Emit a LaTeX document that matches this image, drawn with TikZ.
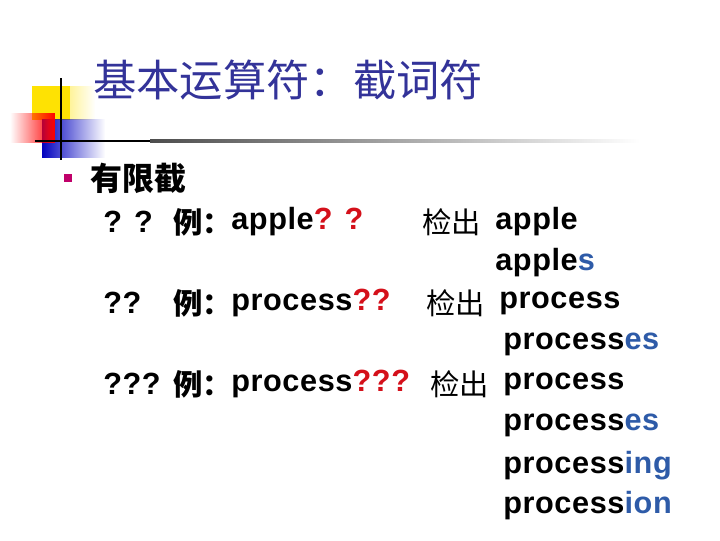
\documentclass[tikz,border=0pt]{standalone}
\usepackage{fontspec}
\setmainfont{Liberation Sans}[LetterSpace=2]
\newfontfamily\cjk{Noto Sans CJK SC}
\usetikzlibrary{fadings}
\definecolor{titleblue}{HTML}{333399}
\definecolor{sufblue}{HTML}{2E5BA8}
\definecolor{qred}{HTML}{D4101A}
\definecolor{bulletc}{HTML}{C0006A}
\begin{document}
\begin{tikzpicture}[x=0.75pt,y=-0.75pt,
  txt/.style={anchor=west,inner sep=0pt,font=\fontsize{23}{26}\selectfont\bfseries},
  ctxt/.style={anchor=west,inner sep=0pt,font=\fontsize{22}{26}\selectfont\cjk},
  ttl/.style={anchor=west,inner sep=0pt,font=\fontsize{32.5}{36}\selectfont\cjk,text=titleblue}]
\useasboundingbox (0,0) rectangle (720,540);
% decoration
\fill[yellow!85!orange,path fading=east] (32,86) rectangle (95,120);
\fill[yellow!85!orange] (32,86) rectangle (70,120);
\fill[blue!75!black,path fading=east] (42,119) rectangle (105,158);
\fill[red,path fading=west] (10,113) rectangle (55,143);
\draw[line width=2.2pt] (61,78) -- (61,160);
\draw[line width=2.2pt] (35,141) -- (150,141);
\shade[left color=black!70,right color=white] (150,139.6) rectangle (640,142.4);
% title
\node[ttl] (title) at (93,80) {基本运算符：截词符};
\fill[bulletc] (64,174) rectangle (72,182);
\node[txt,font=\fontsize{24}{28}\selectfont\cjk\bfseries] (h) at (90,178) {有限截};
% rows
\node[txt] (q1) at (103,222) {? ?};
\node[ctxt,font=\fontsize{22}{26}\selectfont\cjk\bfseries] (l1) at (173,222) {例：};
\node[txt] (e1) at (231,222) {apple\textcolor{qred}{? ?}};
\node[ctxt] (c1) at (422,222) {检出};
\node[txt] (r1) at (495,222) {apple};
\node[txt] (s1) at (495,263) {apple\textcolor{sufblue}{s}};
\node[txt] (q2) at (103,303) {??};
\node[ctxt,font=\fontsize{22}{26}\selectfont\cjk\bfseries] (l2) at (173,303) {例：};
\node[txt] (e2) at (231,303) {process\textcolor{qred}{??}};
\node[ctxt] (c2) at (426,303) {检出};
\node[txt] (r2) at (499,303) {process};
\node[txt] (s2) at (503,344) {process\textcolor{sufblue}{es}};
\node[txt] (q3) at (103,384) {???};
\node[ctxt,font=\fontsize{22}{26}\selectfont\cjk\bfseries] (l3) at (173,384) {例：};
\node[txt] (e3) at (231,384) {process\textcolor{qred}{???}};
\node[ctxt] (c3) at (430,384) {检出};
\node[txt] (r3) at (503,384) {process};
\node[txt] (s3) at (503,425) {process\textcolor{sufblue}{es}};
\node[txt] (s4) at (503,466) {process\textcolor{sufblue}{ing}};
\node[txt] (s5) at (503,506) {process\textcolor{sufblue}{ion}};
\end{tikzpicture}
\end{document}
